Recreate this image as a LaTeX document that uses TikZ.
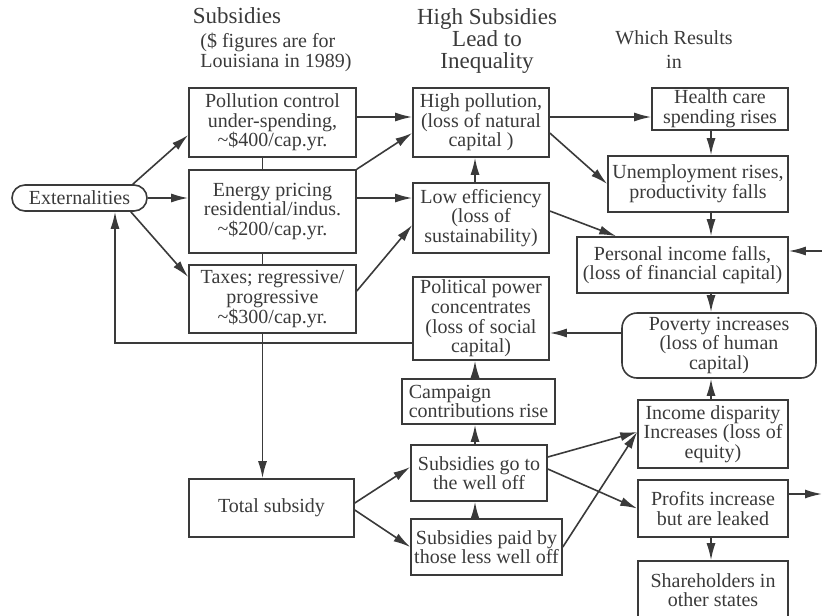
\documentclass[tikz,border=0pt]{standalone}
\usepackage{fontspec}
\setmainfont{Liberation Serif}
\usetikzlibrary{arrows.meta}
\definecolor{ink}{HTML}{3A3A3A}

\begin{document}
\begin{tikzpicture}[x=0.5pt,y=-0.5pt,
    every node/.style={text=ink, font=\fontsize{10}{9.8}\selectfont},
    box/.style={draw=ink, line width=0.8pt, inner sep=0pt, align=center},
    arr/.style={draw=ink, line width=0.8pt, -{Latex[length=8.5pt,width=4.5pt]}},
    ln/.style={draw=ink, line width=0.8pt},
    head/.style={font=\fontsize{11.5}{11}\selectfont, align=center, inner sep=0pt}]
    \useasboundingbox (0,0) rectangle (822,615);

    % column headings
    \node[head] (subs) at (237,16) {Subsidies};
    \node[align=left, anchor=west, inner sep=0pt, font=\fontsize{10}{9}\selectfont] (note) at (200,52) {(\$ figures are for\\Louisiana in 1989)};
    \node[head] (lead) at (487,41) {High Subsidies\\Lead to\\Inequality};
    \node[align=center, inner sep=0pt, font=\fontsize{10}{12}\selectfont] (res) at (674,50) {Which Results\\in};

    % subsidies
    \node[box, rounded corners=6.5pt, minimum width=67.5pt, minimum height=13pt] (ext) at (79.5,198) {Externalities};
    \node[box, minimum width=83.5pt, minimum height=34.5pt] (poll) at (272.5,122.5) {Pollution control\\under-spending,\\\textasciitilde\$400/cap.yr.};
    \node[box, minimum width=83.5pt, minimum height=41.5pt] (energy) at (272.5,211.5) {Energy pricing\\residential/indus.\\\textasciitilde\$200/cap.yr.};
    \node[box, minimum width=83.5pt, minimum height=34pt] (taxes) at (272.5,299) {Taxes; regressive/\\progressive\\\textasciitilde\$300/cap.yr.};
    \node[box, minimum width=82.5pt, minimum height=29pt] (total) at (271.5,508) {Total subsidy};

    % middle column
    \node[box, minimum width=68pt, minimum height=34.5pt] (hpol) at (481,122.5) {High pollution,\\(loss of natural\\capital )};
    \node[box, minimum width=68pt, minimum height=35pt] (loweff) at (481,218) {Low efficiency\\(loss of\\sustainability)};
    \node[box, minimum width=68pt, minimum height=41.5pt] (polit) at (481,318.5) {Political power\\concentrates\\(loss of social\\capital)};
    \node[box, align=left, minimum width=76.5pt, minimum height=22.5pt] (camp) at (478.5,401.5) {Campaign\\contributions rise};
    \node[box, minimum width=68pt, minimum height=28pt] (goto) at (479,473) {Subsidies go to\\the well off};
    \node[box, minimum width=75.5pt, minimum height=28pt] (paid) at (486.5,547) {Subsidies paid by\\those less well off};

    % results
    \node[box, minimum width=68pt, minimum height=21pt] (health) at (720,109) {Health care\\spending rises};
    \node[box, minimum width=90pt, minimum height=28pt] (unemp) at (698,184) {Unemployment rises,\\productivity falls};
    \node[box, minimum width=105.5pt, minimum height=28pt] (income) at (682.5,265) {Personal income falls,\\(loss of financial capital)};
    \node[box, rounded corners=7.5pt, minimum width=97pt, minimum height=32.5pt] (poverty) at (719,345.5) {Poverty increases\\(loss of human\\capital)};
    \node[box, minimum width=75pt, minimum height=34pt] (disp) at (713,434) {Income disparity\\Increases (loss of\\equity)};
    \node[box, minimum width=75pt, minimum height=28.5pt] (profit) at (713,508.5) {Profits increase\\but are leaked};
    \node[box, minimum width=75pt, minimum height=29pt] (share) at (713,590) {Shareholders in\\other states};

    \coordinate (spine) at (262.5,0);
    \coordinate (mid) at (475,0);
    \coordinate (col) at (711,0);
    \coordinate (inR) at (822,251);
    \coordinate (outR) at (822,494);

    % left side
    \draw[arr] ([xshift=-7.5pt]ext.north east) -- ([yshift=-6.25pt]poll.west);
    \draw[arr] (ext.east) -- (ext.east -| energy.west);
    \draw[arr] ([xshift=-8.5pt]ext.south east) -- ([yshift=11pt]taxes.west);
    \draw[ln] (poll.south -| spine) -- (energy.north -| spine);
    \draw[ln] (energy.south -| spine) -- (taxes.north -| spine);
    \draw[arr] (taxes.south -| spine) -- (total.north -| spine);
    \draw[arr] ([yshift=2.75pt]poll.east) -- ([yshift=2.75pt]hpol.west);
    \draw[arr] (energy.north east) -- ([yshift=-5.25pt]hpol.west);
    \draw[arr] (energy.east |- ext.east) -- (loweff.west |- ext.east);
    \draw[arr] ([yshift=4pt]taxes.east) -- ([yshift=-3.5pt]loweff.west);
    \draw[arr] ([yshift=-12.25pt]polit.west) -| ([xshift=17.75pt]ext.south);
    \draw[arr] ([yshift=2.5pt]total.east) -- ([yshift=3pt]goto.west);
    \draw[arr] ([yshift=-1pt]total.east) -- (paid.west);

    % middle
    \draw[arr] (loweff.north -| mid) -- (hpol.south -| mid);
    \draw[arr] (camp.north -| mid) -- (polit.south -| mid);
    \draw[arr] (goto.north -| mid) -- (camp.south -| mid);
    \draw[arr] (paid.north -| mid) -- (goto.south -| mid);
    \draw[arr] ([yshift=2.75pt]hpol.east) -- ([yshift=2.75pt]hpol.east -| health.west);
    \draw[arr] ([yshift=-5.25pt]hpol.east) -- (unemp.west);
    \draw[arr] ([yshift=3.5pt]loweff.east) -- ([xshift=20pt]income.north west);
    \draw[arr] ([yshift=8pt]goto.east) -- ([yshift=1pt]disp.west);
    \draw[arr] ([yshift=2pt]goto.east) -- (profit.west);
    \draw[arr] (paid.east) -- ([yshift=1pt]disp.west);

    % right side
    \draw[arr] (health.south -| col) -- (unemp.north -| col);
    \draw[arr] (unemp.south -| col) -- (income.north -| col);
    \draw[arr] (income.south -| col) -- (poverty.north -| col);
    \draw[arr] (inR) -- (inR -| income.east);
    \draw[arr] ([yshift=6.25pt]poverty.west) -- ([yshift=6.25pt]poverty.west -| polit.east);
    \draw[arr] (disp.north -| col) -- (poverty.south -| col);
    \draw[arr] ([yshift=7.25pt]profit.east) -- (outR);
    \draw[arr] (profit.south -| col) -- (share.north -| col);
\end{tikzpicture}
\end{document}
